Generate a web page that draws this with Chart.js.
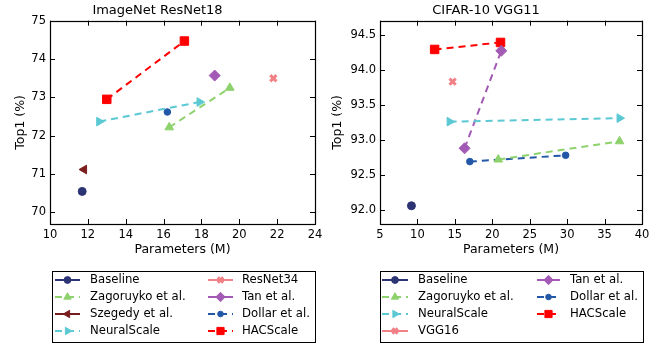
<!DOCTYPE html>
<html>
<head>
<meta charset="utf-8">
<script src="https://cdn.jsdelivr.net/npm/chart.js@4.4.1/dist/chart.umd.min.js"></script>
<style>
  body { margin: 0; background: #fff; }
  .wrap { display: flex; width: 661px; height: 343px; }
  canvas { display: block; }
</style>
</head>
<body>
<div class="wrap">
  <canvas id="leftChart" width="330" height="343"></canvas>
  <canvas id="rightChart" width="331" height="343"></canvas>
</div>
<script>
// ImageNet ResNet18 : [params (M), top1 (%)]
const inBaseline = [[11.7, 70.55]];
const inZagoruyko = [[16.3, 72.22], [19.5, 73.25]];
const inSzegedy = [[11.8, 71.12]];
const inNeuralScale = [[12.6, 72.37], [17.9, 72.88]];
const inResNet34 = [[21.8, 73.50]];
const inTan = [[18.7, 73.57]];
const inDollar = [[16.2, 72.62]];
const inHACScale = [[13.0, 72.95], [17.1, 74.47]];
const inXTicks = [10, 12, 14, 16, 18, 20, 22, 24];
const inYTicks = [70, 71, 72, 73, 74, 75];

// CIFAR-10 VGG11
const cfBaseline = [[9.2, 92.06]];
const cfZagoruyko = [[20.8, 92.72], [37.0, 92.98]];
const cfNeuralScale = [[14.3, 93.26], [37.0, 93.31]];
const cfVGG16 = [[14.7, 93.83]];
const cfTan = [[16.3, 92.88], [21.2, 94.27]];
const cfDollar = [[17.0, 92.69], [29.8, 92.78]];
const cfHACScale = [[12.3, 94.29], [21.1, 94.39]];
const cfXTicks = [5, 10, 15, 20, 25, 30, 35, 40];
const cfYTicks = [92.0, 92.5, 93.0, 93.5, 94.0, 94.5];

const FONT = 'DejaVu Sans';
Chart.defaults.font.family = FONT;
Chart.defaults.color = '#000';

const col = {
    baseline: '#2c3474',
    zag: '#8ed26d',
    szeg: '#7b1d1d',
    neural: '#5bc9d3',
    ref: '#f28087',
    tan: '#a35ab4',
    dollar: '#2358a8',
    hac: '#ff0000'
};

// marker looks
const mk = {
    circle: { pointStyle: 'circle', pointRadius: 4, pointRotation: 0 },
    smallCircle: { pointStyle: 'circle', pointRadius: 3.3, pointRotation: 0 },
    up: { pointStyle: 'triangle', pointRadius: 5, pointRotation: 0 },
    left: { pointStyle: 'triangle', pointRadius: 5, pointRotation: -90 },
    right: { pointStyle: 'triangle', pointRadius: 5, pointRotation: 90 },
    cross: { pointStyle: 'crossRot', pointRadius: 4.4, pointRotation: 0, pointBorderWidth: 3 },
    diamond: { pointStyle: 'rectRot', pointRadius: 5.5, pointRotation: 0 },
    square: { pointStyle: 'rect', pointRadius: 6, pointRotation: 0 }
};

function series(label, pts, color, marker, dashed, legendDashed) {
    return Object.assign({
        label: label,
        data: pts.map(p => ({ x: p[0], y: p[1] })),
        borderColor: color,
        backgroundColor: color,
        pointBackgroundColor: color,
        pointBorderColor: color,
        pointBorderWidth: 1,
        borderWidth: 2,
        borderDash: dashed ? [7, 5] : [],
        showLine: pts.length > 1,
        legendDash: legendDashed,
        clip: false
    }, marker);
}

// frame + inward ticks on all four sides (matplotlib classic look)
const framePlugin = {
    id: 'frame',
    beforeDatasetsDraw(chart) {
        const { ctx, chartArea: a } = chart;
        const xs = chart.scales.x, ys = chart.scales.y;
        const L = 5;
        ctx.save();
        ctx.strokeStyle = '#000';
        ctx.lineWidth = 1;
        ctx.beginPath();
        xs.ticks.forEach(t => {
            const px = Math.round(xs.getPixelForValue(t.value)) + 0.5;
            ctx.moveTo(px, a.bottom); ctx.lineTo(px, a.bottom - L);
            ctx.moveTo(px, a.top); ctx.lineTo(px, a.top + L);
        });
        ys.ticks.forEach(t => {
            const py = Math.round(ys.getPixelForValue(t.value)) + 0.5;
            ctx.moveTo(a.left, py); ctx.lineTo(a.left + L, py);
            ctx.moveTo(a.right, py); ctx.lineTo(a.right - L, py);
        });
        ctx.stroke();
        ctx.lineWidth = 1.2;
        ctx.strokeRect(Math.round(a.left) + 0.5, Math.round(a.top) + 0.5,
            Math.round(a.right - a.left), Math.round(a.bottom - a.top));
        ctx.restore();
    }
};

// two-column legend, filled column by column
const colLegendPlugin = {
    id: 'colLegend',
    afterDraw(chart, args, opts) {
        const ctx = chart.ctx;
        const [bl, bt, br, bb] = opts.box;
        ctx.save();
        ctx.fillStyle = '#fff';
        ctx.fillRect(bl, bt, br - bl, bb - bt);
        ctx.strokeStyle = '#000';
        ctx.lineWidth = 1;
        ctx.strokeRect(bl + 0.5, bt + 0.5, br - bl, bb - bt);
        const ds = chart.data.datasets;
        const rows = opts.rows;
        ds.forEach((d, i) => {
            const c = Math.floor(i / rows), r = i % rows;
            const [x0, x1, tx] = opts.cols[c];
            const y = opts.y0 + r * opts.step;
            ctx.strokeStyle = d.borderColor;
            ctx.lineWidth = 2;
            ctx.setLineDash(d.legendDash ? [7, 5] : []);
            ctx.beginPath();
            ctx.moveTo(x0, y); ctx.lineTo(x1, y);
            ctx.stroke();
            ctx.setLineDash([]);
            ctx.fillStyle = d.pointBackgroundColor;
            ctx.strokeStyle = d.pointBorderColor;
            ctx.lineWidth = d.pointBorderWidth;
            Chart.helpers.drawPoint(ctx, {
                pointStyle: d.pointStyle,
                rotation: d.pointRotation,
                radius: d.pointRadius * 0.85,
                borderWidth: d.pointBorderWidth
            }, (x0 + x1) / 2, y);
            ctx.fillStyle = '#000';
            ctx.font = '11.7px "' + FONT + '"';
            ctx.textBaseline = 'middle';
            ctx.textAlign = 'left';
            ctx.fillText(d.label, tx, y);
        });
        ctx.restore();
    }
};

function makeChart(id, title, datasets, xr, yr, xTicks, yTicks, yFmt, legendOpts, rightPad, yTitlePad) {
    const ctx = document.getElementById(id).getContext('2d');
    return new Chart(ctx, {
        type: 'scatter',
        data: { datasets: datasets },
        plugins: [framePlugin, colLegendPlugin],
        options: {
            responsive: false,
            animation: false,
            layout: { padding: { left: 0, right: rightPad, top: 0, bottom: 85 } },
            plugins: {
                legend: { display: false },
                tooltip: { enabled: false },
                title: {
                    display: true,
                    text: title,
                    color: '#000',
                    font: { size: 13, weight: 'normal', lineHeight: 1.2 },
                    padding: { top: 2.5, bottom: 2.6 }
                },
                colLegend: legendOpts
            },
            scales: {
                x: {
                    type: 'linear',
                    min: xr[0], max: xr[1],
                    grid: { display: false, drawTicks: false, tickLength: 0 },
                    border: { display: false },
                    afterBuildTicks: s => { s.ticks = xTicks.map(v => ({ value: v })); },
                    afterFit: s => { s.height = 34; },
                    ticks: { font: { size: 11.5 }, padding: 4, maxRotation: 0, color: '#000' },
                    title: {
                        display: true, text: 'Parameters (M)', color: '#000',
                        font: { size: 12.5 }, padding: { top: 0, bottom: 1 }
                    }
                },
                y: {
                    type: 'linear',
                    min: yr[0], max: yr[1],
                    grid: { display: false, drawTicks: false, tickLength: 0 },
                    border: { display: false },
                    afterBuildTicks: s => { s.ticks = yTicks.map(v => ({ value: v })); },
                    afterFit: s => { s.width = 50; },
                    ticks: { font: { size: 11.5 }, padding: 4, color: '#000', callback: yFmt },
                    title: {
                        display: true, text: 'Top1 (%)', color: '#000',
                        font: { size: 12.5 }, padding: { top: yTitlePad, bottom: 0 }
                    }
                }
            }
        }
    });
}

const leftSets = [
    series('Baseline', inBaseline, col.baseline, mk.circle, false, false),
    series('Zagoruyko et al.', inZagoruyko, col.zag, mk.up, true, true),
    series('Szegedy et al.', inSzegedy, col.szeg, mk.left, false, false),
    series('NeuralScale', inNeuralScale, col.neural, mk.right, true, true),
    series('ResNet34', inResNet34, col.ref, mk.cross, false, false),
    series('Tan et al.', inTan, col.tan, mk.diamond, false, false),
    series('Dollar et al.', inDollar, col.dollar, mk.smallCircle, true, true),
    series('HACScale', inHACScale, col.hac, mk.square, true, true)
];

const rightSets = [
    series('Baseline', cfBaseline, col.baseline, mk.circle, false, false),
    series('Zagoruyko et al.', cfZagoruyko, col.zag, mk.up, true, true),
    series('NeuralScale', cfNeuralScale, col.neural, mk.right, true, true),
    series('VGG16', cfVGG16, col.ref, mk.cross, false, false),
    series('Tan et al.', cfTan, col.tan, mk.diamond, true, false),
    series('Dollar et al.', cfDollar, col.dollar, mk.smallCircle, true, true),
    series('HACScale', cfHACScale, col.hac, mk.square, true, true)
];

makeChart('leftChart', 'ImageNet ResNet18', leftSets, [10, 24], [69.7, 75],
    inXTicks, inYTicks, v => String(v),
    { box: [52, 271, 315, 342], rows: 4, y0: 280, step: 17,
      cols: [[55, 80, 90], [208, 233, 242]] }, 15, 13.5);

makeChart('rightChart', 'CIFAR-10 VGG11', rightSets, [5, 40], [91.8, 94.7],
    cfXTicks, cfYTicks, v => v.toFixed(1),
    { box: [50, 271, 313, 342], rows: 4, y0: 280, step: 17,
      cols: [[52, 78, 88], [207, 230, 240]] }, 19, 0);
</script>
</body>
</html>
